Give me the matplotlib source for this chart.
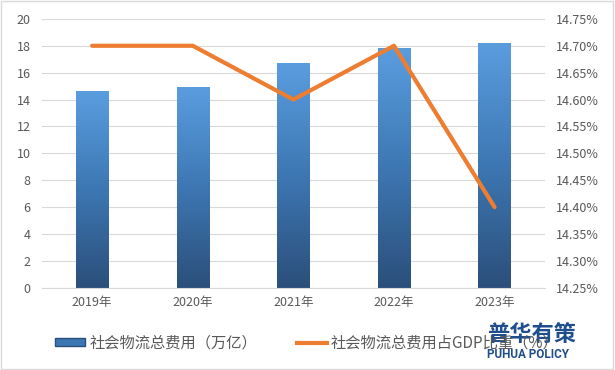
import numpy as np
import matplotlib
matplotlib.use("Agg")
import matplotlib.pyplot as plt
from matplotlib.colors import LinearSegmentedColormap
from matplotlib.patches import Patch
from matplotlib.lines import Line2D
from matplotlib.ticker import FuncFormatter

plt.rcParams['font.family'] = ['Noto Sans CJK SC', 'DejaVu Sans']

years = ["2019年", "2020年", "2021年", "2022年", "2023年"]
cost = [14.6, 14.9, 16.7, 17.8, 18.2]
ratio = [14.70, 14.70, 14.60, 14.70, 14.40]

fig = plt.figure(figsize=(6.15, 3.7), dpi=100)
ax = fig.add_axes([0.068, 0.222, 0.818, 0.727])
ax2 = ax.twinx()

x = np.arange(len(years))
bars = ax.bar(x, cost, width=0.32, color="none", edgecolor="none", zorder=2)
cmap = LinearSegmentedColormap.from_list("g", ["#2b4f7a", "#3d77b3", "#5a9ddf"])
grad = np.linspace(0, 1, 256).reshape(-1, 1)
for b in bars:
    x0, y0 = b.get_x(), b.get_y()
    w, h = b.get_width(), b.get_height()
    im = ax.imshow(grad, extent=[x0, x0 + w, y0, y0 + h], origin="lower",
                   aspect="auto", cmap=cmap, zorder=2)
    im.set_clip_path(b)

ax.set_xlim(-0.5, len(years) - 0.5)
ax.set_ylim(0, 20)
ax.set_yticks(range(0, 21, 2))
ax.set_xticks(x)
ax.set_xticklabels(years)
ax.grid(axis="y", color="#d9d9d9", linewidth=0.8, zorder=0)
ax.set_axisbelow(True)

ax2.plot(x, ratio, color="#ed7d31", linewidth=3, zorder=3, solid_capstyle="round")
ax2.set_ylim(14.25, 14.75)
ax2.set_yticks(np.arange(14.25, 14.751, 0.05))
ax2.yaxis.set_major_formatter(FuncFormatter(lambda v, p: f"{v:.2f}%"))

for a in (ax, ax2):
    for s in a.spines.values():
        s.set_visible(False)
    a.tick_params(length=0, labelsize=9, colors="#595959")
ax.spines["bottom"].set_visible(True)
ax.spines["bottom"].set_color("#d9d9d9")
ax.tick_params(axis="x", pad=6)
ax.tick_params(axis="y", pad=8)
ax2.tick_params(axis="y", pad=8)

handles = [Patch(facecolor="#3d77b3", edgecolor="#2b4f7a"),
           Line2D([0], [0], color="#ed7d31", linewidth=3)]
labels = ["社会物流总费用（万亿）", "社会物流总费用占GDP比重（%）"]
fig.legend(handles, labels, loc="center", bbox_to_anchor=(0.499, 0.073), ncol=2,
           frameon=False, fontsize=11, labelcolor="#595959", columnspacing=2.6,
           handlelength=2.0, handletextpad=0.25, handleheight=0.45)

# watermark
fig.text(0.792, 0.078, "普华有策", fontsize=16, fontweight="bold", color="#1f4e8c")
fig.text(0.792, 0.033, "PUHUA POLICY", fontsize=8.5, fontweight="bold", color="#1f4e8c",
         family=["Roboto", "DejaVu Sans"])

fig.patches.append(plt.Rectangle((0.002, 0.003), 0.995, 0.993, transform=fig.transFigure,
                                 fill=False, edgecolor="#d9d9d9", linewidth=1))

fig.savefig("out.png", dpi=100)
